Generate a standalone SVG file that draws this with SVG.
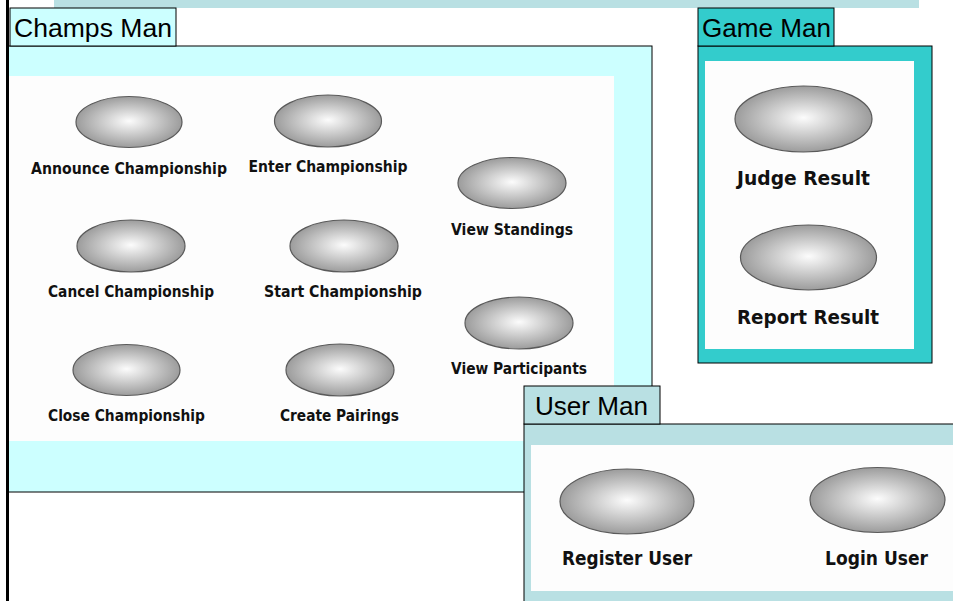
<svg xmlns="http://www.w3.org/2000/svg" width="953" height="601" viewBox="0 0 953 601">
  <defs>
    <radialGradient id="uc" cx="50%" cy="50%" r="50%" fx="50%" fy="48%">
      <stop offset="0" stop-color="#fcfcfc"/>
      <stop offset="1" stop-color="#9c9c9c"/>
    </radialGradient>
    <style>
      .uc { fill: url(#uc); stroke: #5a5a5a; stroke-width: 1.2; }
      .lbl { font-family: "DejaVu Sans", Verdana, sans-serif; font-weight: bold; fill: #111; text-anchor: middle; }
      .s { font-size: 15px; }
      .l { font-size: 19.5px; }
      .tabtxt { font-family: "Liberation Sans", Arial, sans-serif; font-size: 26px; fill: #000; }
      .frame { stroke: #000; stroke-width: 1; }
      .inner { fill: #fdfdfd; }
    </style>
  </defs>

  <rect width="953" height="601" fill="#fff"/>

  <!-- strip along the top edge -->
  <rect x="54" y="0" width="865" height="8" fill="#b9e0e3"/>

  <!-- Champs Man package -->
  <g id="champs-man">
    <rect x="8" y="46" width="644" height="446" fill="#ccffff" class="frame"/>
    <rect x="9" y="76" width="605" height="365" class="inner"/>
    <rect x="10" y="8" width="166" height="38" fill="#ccffff" class="frame"/>
    <text x="14" y="37" class="tabtxt" textLength="158" lengthAdjust="spacingAndGlyphs">Champs Man</text>
  </g>

  <!-- Game Man package -->
  <g id="game-man">
    <rect x="698" y="46" width="234" height="317" fill="#33cccc" class="frame"/>
    <rect x="705" y="61" width="209" height="288" class="inner"/>
    <rect x="698" y="8" width="136" height="38" fill="#33cccc" class="frame"/>
    <text x="702" y="37" class="tabtxt" textLength="129" lengthAdjust="spacingAndGlyphs">Game Man</text>
  </g>

  <!-- User Man package -->
  <g id="user-man">
    <rect x="524" y="424" width="440" height="190" fill="#b9e0e3" class="frame"/>
    <rect x="531" y="445" width="430" height="146" class="inner"/>
    <rect x="524" y="386" width="136" height="38" fill="#b9e0e3" class="frame"/>
    <text x="535" y="415" class="tabtxt" textLength="113" lengthAdjust="spacingAndGlyphs">User Man</text>
  </g>

  <!-- left border line -->
  <line x1="7.5" y1="0" x2="7.5" y2="601" stroke="#000" stroke-width="3"/>

  <!-- use cases -->
  <g id="announce-championship">
    <ellipse cx="129" cy="122" rx="53" ry="25.5" class="uc"/>
    <text x="129" y="174" class="lbl s" textLength="196" lengthAdjust="spacingAndGlyphs">Announce Championship</text>
  </g>
  <g id="enter-championship">
    <ellipse cx="328" cy="121" rx="53.5" ry="26" class="uc"/>
    <text x="328" y="172" class="lbl s" textLength="159" lengthAdjust="spacingAndGlyphs">Enter Championship</text>
  </g>
  <g id="view-standings">
    <ellipse cx="512" cy="183" rx="54" ry="25.5" class="uc"/>
    <text x="512" y="235" class="lbl s" textLength="122" lengthAdjust="spacingAndGlyphs">View Standings</text>
  </g>
  <g id="cancel-championship">
    <ellipse cx="131" cy="246" rx="54" ry="26" class="uc"/>
    <text x="131" y="297" class="lbl s" textLength="166" lengthAdjust="spacingAndGlyphs">Cancel Championship</text>
  </g>
  <g id="start-championship">
    <ellipse cx="344" cy="246" rx="54" ry="26" class="uc"/>
    <text x="343" y="297" class="lbl s" textLength="158" lengthAdjust="spacingAndGlyphs">Start Championship</text>
  </g>
  <g id="view-participants">
    <ellipse cx="519" cy="323" rx="54" ry="26" class="uc"/>
    <text x="519" y="374" class="lbl s" textLength="136" lengthAdjust="spacingAndGlyphs">View Participants</text>
  </g>
  <g id="close-championship">
    <ellipse cx="126.5" cy="370" rx="53.5" ry="25.5" class="uc"/>
    <text x="126.5" y="421" class="lbl s" textLength="157" lengthAdjust="spacingAndGlyphs">Close Championship</text>
  </g>
  <g id="create-pairings">
    <ellipse cx="340" cy="370" rx="54" ry="26" class="uc"/>
    <text x="339.5" y="421" class="lbl s" textLength="119" lengthAdjust="spacingAndGlyphs">Create Pairings</text>
  </g>
  <g id="judge-result">
    <ellipse cx="803.5" cy="119" rx="68.5" ry="33" class="uc"/>
    <text x="803.5" y="185" class="lbl l" textLength="133" lengthAdjust="spacingAndGlyphs">Judge Result</text>
  </g>
  <g id="report-result">
    <ellipse cx="808.5" cy="257.5" rx="68" ry="32.5" class="uc"/>
    <text x="808" y="324" class="lbl l" textLength="142" lengthAdjust="spacingAndGlyphs">Report Result</text>
  </g>
  <g id="register-user">
    <ellipse cx="627" cy="501.5" rx="67" ry="32.5" class="uc"/>
    <text x="627" y="565" class="lbl l" textLength="130" lengthAdjust="spacingAndGlyphs">Register User</text>
  </g>
  <g id="login-user">
    <ellipse cx="877.5" cy="500" rx="67.5" ry="32.5" class="uc"/>
    <text x="876.5" y="565" class="lbl l" textLength="103" lengthAdjust="spacingAndGlyphs">Login User</text>
  </g>

  <g id="connectors"/>
</svg>
